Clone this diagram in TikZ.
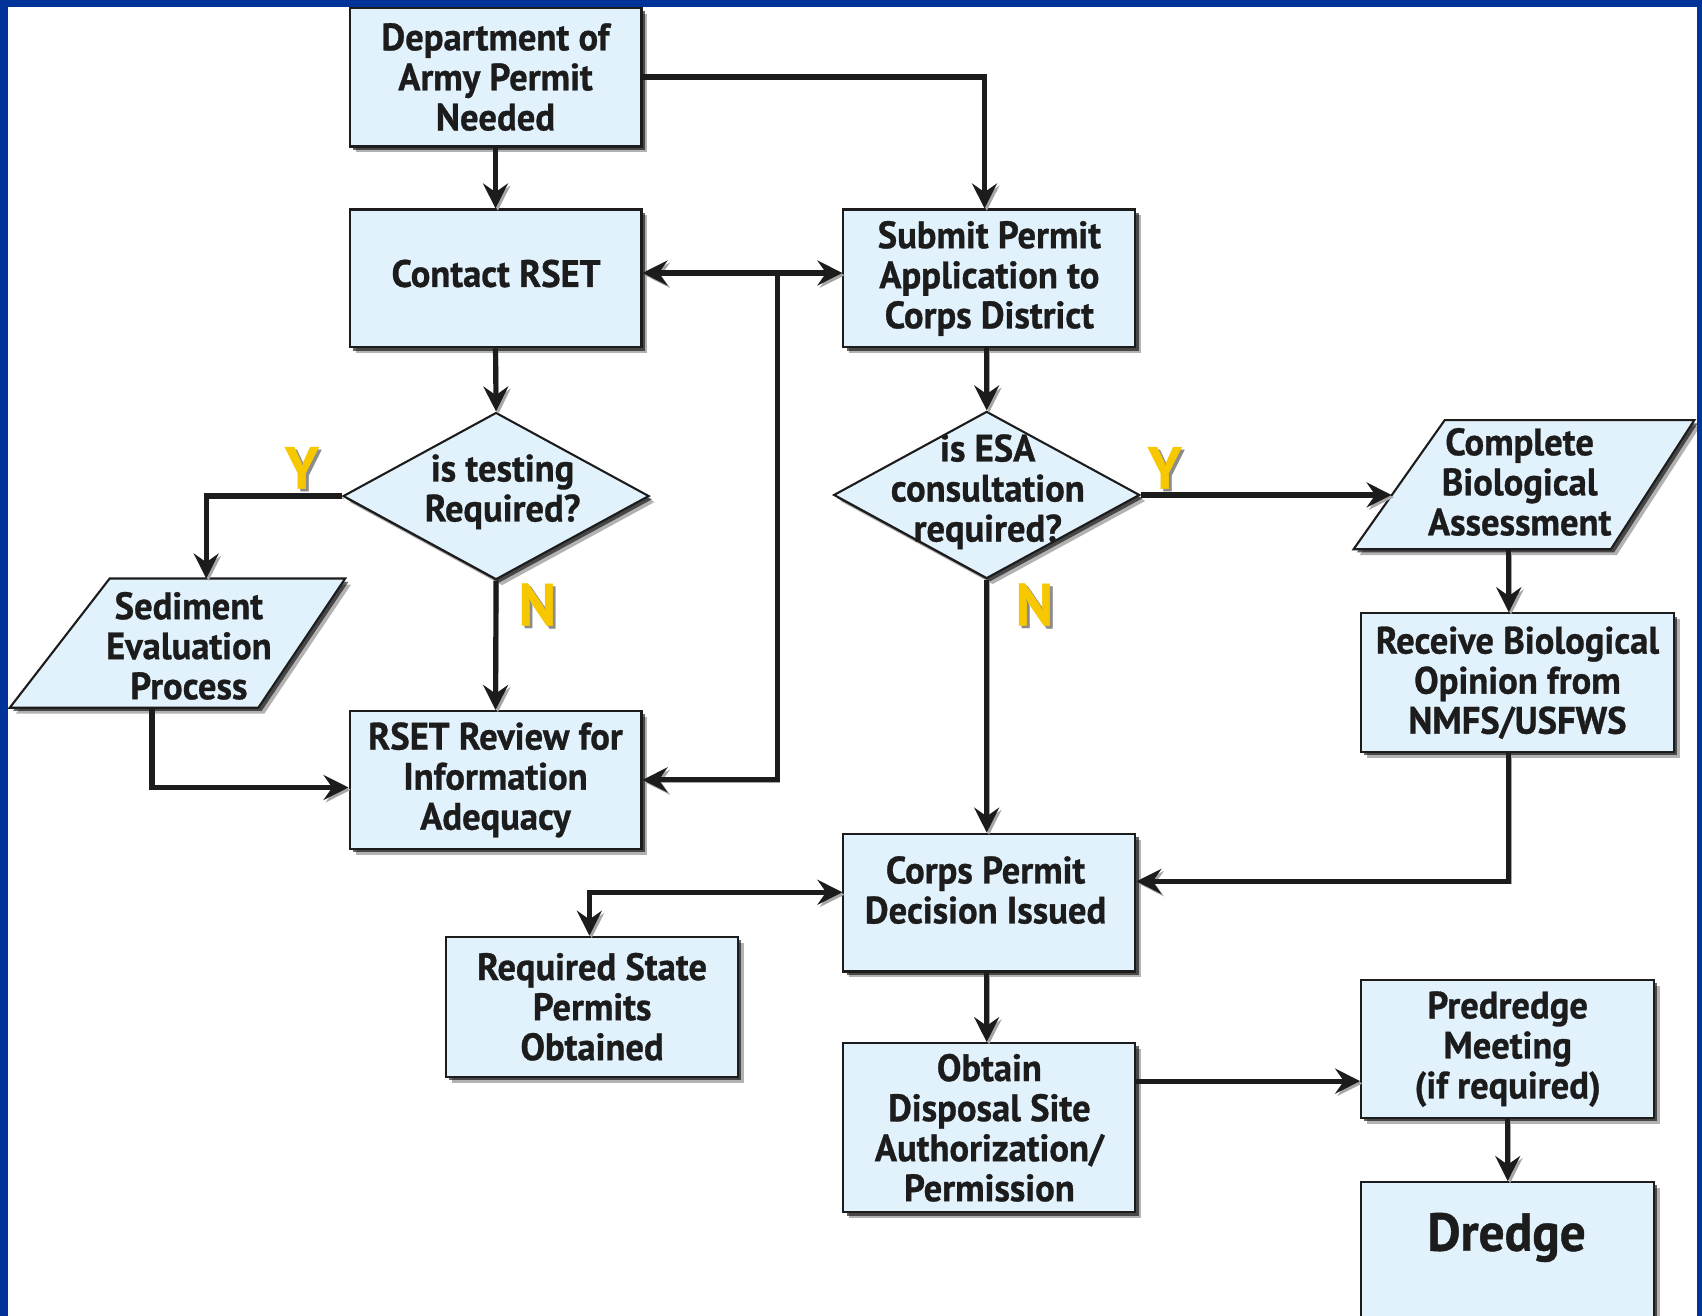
\documentclass[tikz,border=0pt]{standalone}
\usepackage{fontspec}
\newfontfamily\diagfont{PT Sans}[FakeStretch=0.96,FakeBold=0.8]
\usetikzlibrary{arrows.meta,shapes.geometric,shadows,calc}
\definecolor{framblue}{RGB}{0,51,153}
\definecolor{boxfill}{RGB}{225,242,252}
\definecolor{ynyellow}{RGB}{247,200,0}
\definecolor{inkc}{RGB}{28,28,28}
\begin{document}
\begin{tikzpicture}[x=0.02cm,y=-0.02cm,
  shadowed/.style={drop shadow={shadow xshift=0.11cm,shadow yshift=-0.11cm,opacity=0.3,fill=black},
                   drop shadow={shadow xshift=0.06cm,shadow yshift=-0.06cm,opacity=0.6,fill=black}},
  procbox/.style={rectangle,draw=inkc,line width=1.1pt,fill=boxfill,shadowed,inner sep=0pt,
    font=\diagfont\bfseries\fontsize{20}{21}\selectfont,text=inkc,align=center},
  decbox/.style={diamond,draw=inkc,line width=1.1pt,fill=boxfill,shadowed,inner sep=0pt,
    minimum width=5.64cm,minimum height=3.08cm},
  iobox/.style={draw=inkc,line width=1.1pt,fill=boxfill,shadowed},
  lbl/.style={font=\diagfont\bfseries\fontsize{20}{21}\selectfont,text=inkc,align=center,inner sep=0pt},
  conn/.style={line width=2.7pt,draw=inkc,
    preaction={draw=black!35,transform canvas={xshift=1.2pt,yshift=-1.2pt}}},
  tipend/.style={-{Stealth[length=0.46cm,width=0.46cm,inset=0.16cm]}},
  tipboth/.style={{Stealth[length=0.46cm,width=0.46cm,inset=0.16cm]}-{Stealth[length=0.46cm,width=0.46cm,inset=0.16cm]}},
  yn/.style={font=\diagfont\bfseries\fontsize{31}{31}\selectfont,text=ynyellow,inner sep=0pt},
  ynshade/.style={font=\diagfont\bfseries\fontsize{31}{31}\selectfont,text=black!45,inner sep=0pt}
]
\useasboundingbox (0,0) rectangle (1568,1212);
\clip (0,0) rectangle (1568,1212);
\fill[white] (0,0) rectangle (1568,1212);

% ---- process boxes ----
\node[procbox,minimum width=5.38cm,minimum height=2.56cm] (dept) at (456.5,71) {Department of\\Army Permit\\Needed};
\node[procbox,minimum width=5.38cm,minimum height=2.54cm] (contact) at (456.5,256.5) {};
\node[lbl] (contactT) at (457,252) {Contact RSET};
\node[procbox,minimum width=5.38cm,minimum height=2.54cm] (submit) at (911.5,256.5) {Submit Permit\\Application to\\Corps District};
\node[procbox,minimum width=5.38cm,minimum height=2.54cm] (rsetrev) at (456.5,718.5) {RSET Review for\\Information\\Adequacy};
\node[procbox,minimum width=5.76cm,minimum height=2.56cm] (receive) at (1398,629) {Receive Biological\\Opinion from\\NMFS/USFWS};
\node[procbox,minimum width=5.38cm,minimum height=2.54cm] (corps) at (911.5,831.5) {};
\node[lbl] (corpsT) at (908,820) {Corps Permit\\Decision Issued};
\node[procbox,minimum width=5.38cm,minimum height=2.58cm] (required) at (545.5,927.5) {Required State\\Permits\\Obtained};
\node[procbox,minimum width=5.38cm,minimum height=3.12cm] (obtain) at (911.5,1039) {Obtain\\Disposal Site\\Authorization/\\Permission};
\node[procbox,minimum width=5.4cm,minimum height=2.54cm] (predredge) at (1389,966.5) {Predredge\\Meeting\\(if required)};
\node[procbox,minimum width=5.4cm,minimum height=3.4cm,anchor=north] (dredge) at (1389,1088) {};
\node[lbl,font=\diagfont\bfseries\fontsize{28}{30}\selectfont] (dredgeT) at (1388,1140) {Dredge};

% ---- decisions ----
\node[decbox] (test) at (457,457) {};
\node[lbl] (testT) at (463,453) {is testing\\Required?};
\node[decbox] (esa) at (909,456) {};
\node[lbl] (esaT) at (910,453) {is ESA\\consultation\\required?};

% ---- input/output parallelograms ----
\path[iobox] (101,533) -- (318,533) -- (238,652) -- (9,652) -- cycle;
\node[lbl] (sed) at (174,595) {Sediment\\Evaluation\\Process};
\coordinate (sedtop) at (190,533);
\coordinate (sedbot) at (140,652);
\path[iobox] (1331,387) -- (1561,387) -- (1484,506) -- (1247,506) -- cycle;
\node[lbl] (cba) at (1400,444) {Complete\\Biological\\Assessment};
\coordinate (cbaleft) at (1282,456);
\coordinate (cbabot) at (1390,506);

% ---- connectors ----
\coordinate (junc) at (716,252);
\draw[conn,tipend] (dept.south) -- (contact.north);
\draw[conn,tipend] (dept.east) -| (submit.north -| 907,0);
\draw[conn,tipboth] ([yshift=0.1cm]contact.east) -- ([yshift=0.1cm]submit.west);
\draw[conn,tipend] (junc) |- (rsetrev.east);
\draw[conn,tipend] (contact.south) -- (test.north);
\draw[conn,tipend] (test.west) -| (sedtop);
\draw[conn,tipend] (test.south) -- (rsetrev.north);
\draw[conn,tipend] (sedbot) |- ([yshift=-0.14cm]rsetrev.west);
\draw[conn,tipend] (submit.south -| esa.north) -- (esa.north);
\draw[conn,tipend] (esa.east) -- (cbaleft);
\draw[conn,tipend] (cbabot) -- (cbabot |- receive.north);
\draw[conn,tipend] (receive.south -| cbabot) |- ([yshift=0.39cm]corps.east);
\draw[conn,tipboth] (required.north -| 543,0) |- ([yshift=0.19cm]corps.west);
\draw[conn,tipend] (esa.south) -- (esa.south |- corps.north);
\draw[conn,tipend] (corps.south -| esa.south) -- (obtain.north -| esa.south);
\coordinate (obtout) at ([yshift=0.86cm]obtain.east);
\draw[conn,tipend] (obtout) -- (obtout -| predredge.west);
\draw[conn,tipend] (predredge.south) -- (dredge.north);

% ---- Y / N labels ----
\node[ynshade] (y1s) at (280.5,433.5) {Y};
\node[yn] (y1) at (278,431) {Y};
\node[ynshade] (n1s) at (497.5,559.5) {N};
\node[yn] (n1) at (495,557) {N};
\node[ynshade] (y2s) at (1075.5,433.5) {Y};
\node[yn] (y2) at (1073,431) {Y};
\node[ynshade] (n2s) at (955.5,559.5) {N};
\node[yn] (n2) at (953,557) {N};

% ---- frame ----
\fill[framblue] (0,0) rectangle (1568,6);
\fill[framblue] (0,0) rectangle (7,1212);
\fill[framblue] (1563,0) rectangle (1568,1212);
\end{tikzpicture}
\end{document}
